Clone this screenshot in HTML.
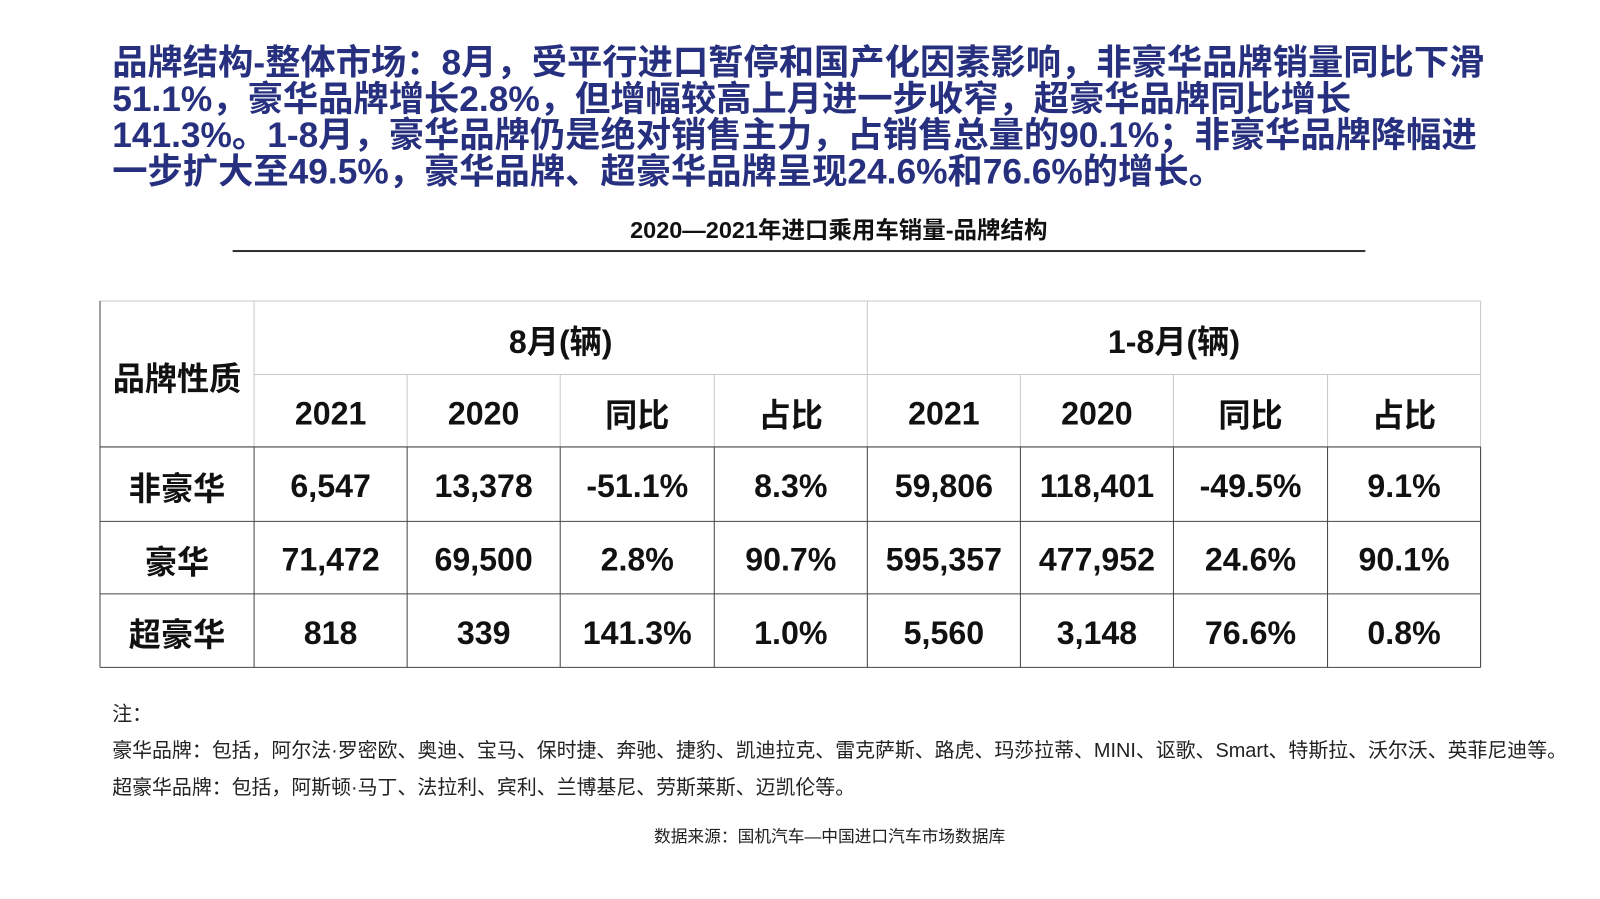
<!DOCTYPE html>
<html><head><meta charset="utf-8"><style>
body{margin:0;width:1600px;height:899px;background:#fff;position:relative;overflow:hidden;font-family:"Liberation Sans","Noto Sans CJK SC",sans-serif}
#w{position:absolute;left:0;top:0;width:1568px;height:881px;transform:scale(1.0204);transform-origin:0 0}
.t{position:absolute;left:110px;top:45px;color:#27307f;font-weight:bold;font-size:34.6px;line-height:35.5px;white-space:nowrap}
.sub{position:absolute;left:0;width:1644px;top:206px;text-align:center;font-weight:bold;font-size:23px;color:#111}
.rule{position:absolute;left:228px;width:1110px;top:245px;height:2px;background:#333}
.c{position:absolute;display:flex;align-items:center;justify-content:center;font-weight:bold;font-size:31.5px;color:#111;box-sizing:border-box;padding-top:4px}
.n{position:absolute;left:110px;font-size:19.5px;color:#222;white-space:nowrap}
</style></head><body><div id="w">
<div class="t">品牌结构-整体市场：8月，受平行进口暂停和国产化因素影响，非豪华品牌销量同比下滑<br>51.1%，豪华品牌增长2.8%，但增幅较高上月进一步收窄，超豪华品牌同比增长<br>141.3%。1-8月，豪华品牌仍是绝对销售主力，占销售总量的90.1%；非豪华品牌降幅进<br>一步扩大至49.5%，豪华品牌、超豪华品牌呈现24.6%和76.6%的增长。</div>
<div class="sub">2020—2021年进口乘用车销量-品牌结构</div>
<div class="rule"></div>
<svg style="position:absolute;left:0;top:0" width="1568" height="881">
<g stroke="#c8c8c8" stroke-width="1">
<line x1="98" y1="295" x2="1451" y2="295"/>
<line x1="249" y1="367" x2="1451" y2="367"/>
<line x1="1451" y1="295" x2="1451" y2="654"/>
<line x1="249" y1="295" x2="249" y2="438"/>
<line x1="850" y1="295" x2="850" y2="438"/>
<line x1="399" y1="367" x2="399" y2="438"/><line x1="549" y1="367" x2="549" y2="438"/><line x1="700" y1="367" x2="700" y2="438"/>
<line x1="1000" y1="367" x2="1000" y2="438"/><line x1="1150" y1="367" x2="1150" y2="438"/><line x1="1301" y1="367" x2="1301" y2="438"/>
</g>
<g stroke="#444" stroke-width="1">
<line x1="98" y1="295" x2="98" y2="654"/>
<line x1="98" y1="438" x2="1451" y2="438"/><line x1="98" y1="511" x2="1451" y2="511"/>
<line x1="98" y1="582" x2="1451" y2="582"/><line x1="98" y1="654" x2="1451" y2="654"/>
<line x1="249" y1="438" x2="249" y2="654"/><line x1="399" y1="438" x2="399" y2="654"/><line x1="549" y1="438" x2="549" y2="654"/><line x1="700" y1="438" x2="700" y2="654"/><line x1="850" y1="438" x2="850" y2="654"/><line x1="1000" y1="438" x2="1000" y2="654"/><line x1="1150" y1="438" x2="1150" y2="654"/><line x1="1301" y1="438" x2="1301" y2="654"/>
<line x1="1451" y1="438" x2="1451" y2="654"/>
</g>
</svg>
<div class="c" style="left:98px;top:295px;width:151px;height:143px">品牌性质</div>
<div class="c" style="left:249px;top:295px;width:601px;height:72px">8月(辆)</div>
<div class="c" style="left:850px;top:295px;width:601px;height:72px">1-8月(辆)</div>
<div class="c" style="left:249px;top:367px;width:150px;height:71px;padding-top:6px">2021</div>
<div class="c" style="left:399px;top:367px;width:150px;height:71px;padding-top:6px">2020</div>
<div class="c" style="left:549px;top:367px;width:151px;height:71px">同比</div>
<div class="c" style="left:700px;top:367px;width:150px;height:71px">占比</div>
<div class="c" style="left:850px;top:367px;width:150px;height:71px;padding-top:6px">2021</div>
<div class="c" style="left:1000px;top:367px;width:150px;height:71px;padding-top:6px">2020</div>
<div class="c" style="left:1150px;top:367px;width:151px;height:71px">同比</div>
<div class="c" style="left:1301px;top:367px;width:150px;height:71px">占比</div>

<div class="c" style="left:98px;top:438px;width:151px;height:73px">非豪华</div>
<div class="c" style="left:249px;top:438px;width:150px;height:73px">6,547</div>
<div class="c" style="left:399px;top:438px;width:150px;height:73px">13,378</div>
<div class="c" style="left:549px;top:438px;width:151px;height:73px">-51.1%</div>
<div class="c" style="left:700px;top:438px;width:150px;height:73px">8.3%</div>
<div class="c" style="left:850px;top:438px;width:150px;height:73px">59,806</div>
<div class="c" style="left:1000px;top:438px;width:150px;height:73px">118,401</div>
<div class="c" style="left:1150px;top:438px;width:151px;height:73px">-49.5%</div>
<div class="c" style="left:1301px;top:438px;width:150px;height:73px">9.1%</div>

<div class="c" style="left:98px;top:511px;width:151px;height:71px">豪华</div>
<div class="c" style="left:249px;top:511px;width:150px;height:71px">71,472</div>
<div class="c" style="left:399px;top:511px;width:150px;height:71px">69,500</div>
<div class="c" style="left:549px;top:511px;width:151px;height:71px">2.8%</div>
<div class="c" style="left:700px;top:511px;width:150px;height:71px">90.7%</div>
<div class="c" style="left:850px;top:511px;width:150px;height:71px">595,357</div>
<div class="c" style="left:1000px;top:511px;width:150px;height:71px">477,952</div>
<div class="c" style="left:1150px;top:511px;width:151px;height:71px">24.6%</div>
<div class="c" style="left:1301px;top:511px;width:150px;height:71px">90.1%</div>

<div class="c" style="left:98px;top:582px;width:151px;height:72px">超豪华</div>
<div class="c" style="left:249px;top:582px;width:150px;height:72px">818</div>
<div class="c" style="left:399px;top:582px;width:150px;height:72px">339</div>
<div class="c" style="left:549px;top:582px;width:151px;height:72px">141.3%</div>
<div class="c" style="left:700px;top:582px;width:150px;height:72px">1.0%</div>
<div class="c" style="left:850px;top:582px;width:150px;height:72px">5,560</div>
<div class="c" style="left:1000px;top:582px;width:150px;height:72px">3,148</div>
<div class="c" style="left:1150px;top:582px;width:151px;height:72px">76.6%</div>
<div class="c" style="left:1301px;top:582px;width:150px;height:72px">0.8%</div>

<div class="n" style="top:683px">注：</div>
<div class="n" style="top:719px">豪华品牌：包括，阿尔法·罗密欧、奥迪、宝马、保时捷、奔驰、捷豹、凯迪拉克、雷克萨斯、路虎、玛莎拉蒂、MINI、讴歌、Smart、特斯拉、沃尔沃、英菲尼迪等。</div>
<div class="n" style="top:755px">超豪华品牌：包括，阿斯顿·马丁、法拉利、宾利、兰博基尼、劳斯莱斯、迈凯伦等。</div>
<div style="position:absolute;left:0;width:1626px;top:806px;text-align:center;font-size:16.4px;color:#222">数据来源：国机汽车—中国进口汽车市场数据库</div>
</div></body></html>
